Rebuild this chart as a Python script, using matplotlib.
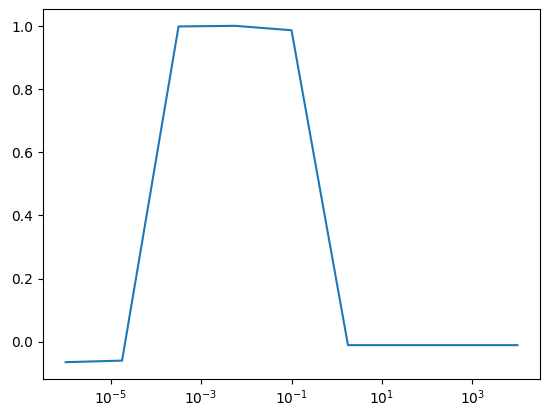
import numpy as np
import matplotlib
matplotlib.use("Agg")
import matplotlib.pyplot as plt

x_exponents = [-6, -4.75, -3.5, -2.25, -1, 0.25, 1.5, 2.75, 4]
y_values = [-0.065, -0.060, 0.999, 1.001, 0.987, -0.011, -0.011, -0.011, -0.011]

x = [10 ** e for e in x_exponents]

W, H = 547, 417
fig = plt.figure(figsize=(W / 100, H / 100), dpi=100)
left, right, top, bottom = 43, 540, 9, 379
ax = fig.add_axes([left / W, 1 - bottom / H, (right - left) / W, (bottom - top) / H])
ax.plot(x, y_values)
ax.set_xscale("log")
fig.savefig("out.png", dpi=100)
